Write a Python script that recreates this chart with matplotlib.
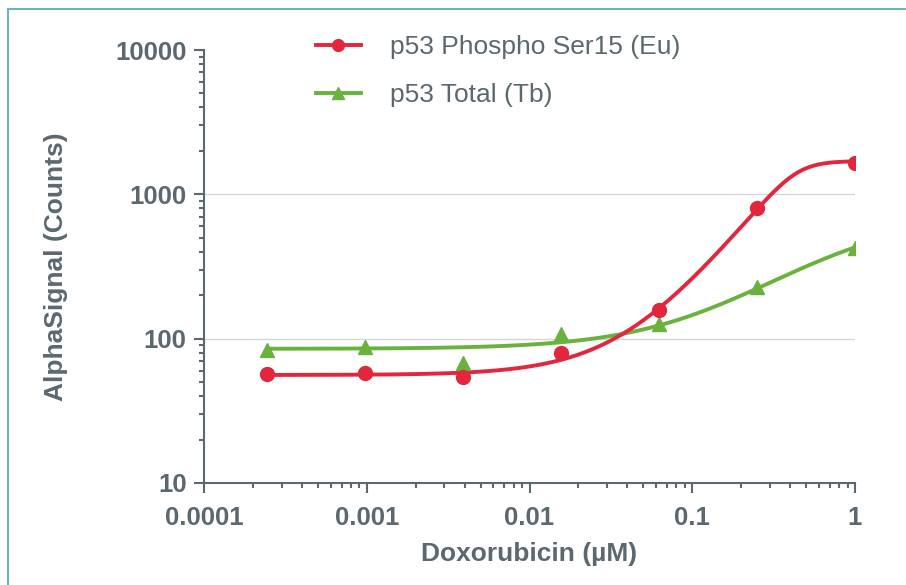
import numpy as np
import matplotlib
matplotlib.use('Agg')
import matplotlib.pyplot as plt
from matplotlib.patches import Rectangle

plt.rcParams['font.family'] = ['Liberation Sans', 'DejaVu Sans']

# doxorubicin dose (uM), 4-fold dilution series
dose = [0.000244, 0.000977, 0.0039, 0.0156, 0.0625, 0.25, 1.0]
phospho = [57, 58, 54, 79, 158, 800, 1660]
total = [84, 88, 68, 108, 127, 228, 425]

# curve fit parameters (bottom, top, ec50, hill, asym)
phospho_fit = (56, 1700, 0.441, 5.0, 0.28)
total_fit = (85, 720, 0.85, 1.05, 1.0)

labels = ['p53 Phospho Ser15 (Eu)', 'p53 Total (Tb)']
y_ticks = [10, 100, 1000, 10000]
x_ticks = [0.0001, 0.001, 0.01, 0.1, 1]
x_ticklabels = ['0.0001', '0.001', '0.01', '0.1', '1']

RED = '#e2263d'
GREEN = '#6ab23e'
GRAY = '#5b6870'


def pl5(x, p):
    bottom, top, c, h, s = p
    return bottom + (top - bottom) / (1 + (c / x) ** h) ** s


fig = plt.figure(figsize=(9.06, 5.85), dpi=100)
ax = fig.add_axes([204 / 906, 1 - 483 / 585, 651 / 906, 433 / 585])

xs = np.logspace(np.log10(dose[0]), np.log10(dose[-1]), 300)

for yv in [100, 1000]:
    ax.axhline(yv, color='#d6d6d6', lw=1.0, zorder=0)

ax.plot(xs, pl5(xs, total_fit), color=GREEN, lw=2.8, zorder=2)
ax.plot(xs, pl5(xs, phospho_fit), color=RED, lw=2.8, zorder=3)
ax.plot(dose, total, '^', color=GREEN, ms=10, zorder=4)
ax.plot(dose, phospho, 'o', color=RED, ms=10, zorder=5)

# legend handles
h1, = ax.plot([], [], '-o', color=RED, lw=2.8, ms=8.5)
h2, = ax.plot([], [], '-^', color=GREEN, lw=2.8, ms=8.5)
leg = ax.legend([h1, h2], labels, loc='upper left',
                bbox_to_anchor=(316 / 906, 1 - 35 / 585),
                bbox_transform=fig.transFigure, frameon=False,
                borderpad=0, borderaxespad=0, handlelength=1.7,
                handletextpad=1.1, labelspacing=0.92, fontsize=19)
for t in leg.get_texts():
    t.set_color(GRAY)

ax.set_xscale('log')
ax.set_yscale('log')
ax.set_xlim(0.0001, 1)
ax.set_ylim(10, 10000)
ax.set_xticks(x_ticks)
ax.set_xticklabels(x_ticklabels)
ax.set_yticks(y_ticks)
ax.set_yticklabels([str(v) for v in y_ticks])

for s in ['top', 'right']:
    ax.spines[s].set_visible(False)
for s in ['left', 'bottom']:
    ax.spines[s].set_color(GRAY)
    ax.spines[s].set_linewidth(1.5)

ax.tick_params(which='major', length=7.5, width=1.5, color=GRAY,
               labelcolor=GRAY, labelsize=18.5, pad=5)
ax.tick_params(axis='x', which='major', pad=9)
ax.tick_params(which='minor', length=3.8, width=1.5, color=GRAY)
for lab in ax.get_xticklabels() + ax.get_yticklabels():
    lab.set_fontweight('bold')
ax.xaxis.set_minor_formatter(plt.NullFormatter())
ax.yaxis.set_minor_formatter(plt.NullFormatter())

ax.set_xlabel('Doxorubicin (\u00b5M)', fontsize=19, fontweight='bold',
              color=GRAY, labelpad=9)
ax.set_ylabel('AlphaSignal (Counts)', fontsize=19, fontweight='bold',
              color=GRAY, labelpad=34)

# teal frame around the panel
fig.patches.append(Rectangle((8 / 906, -0.1), 1.2, 1 - 9 / 585 + 0.1,
                             transform=fig.transFigure, fill=False,
                             edgecolor='#5bb0b2', lw=1.3))

fig.savefig('out.png', dpi=100)
